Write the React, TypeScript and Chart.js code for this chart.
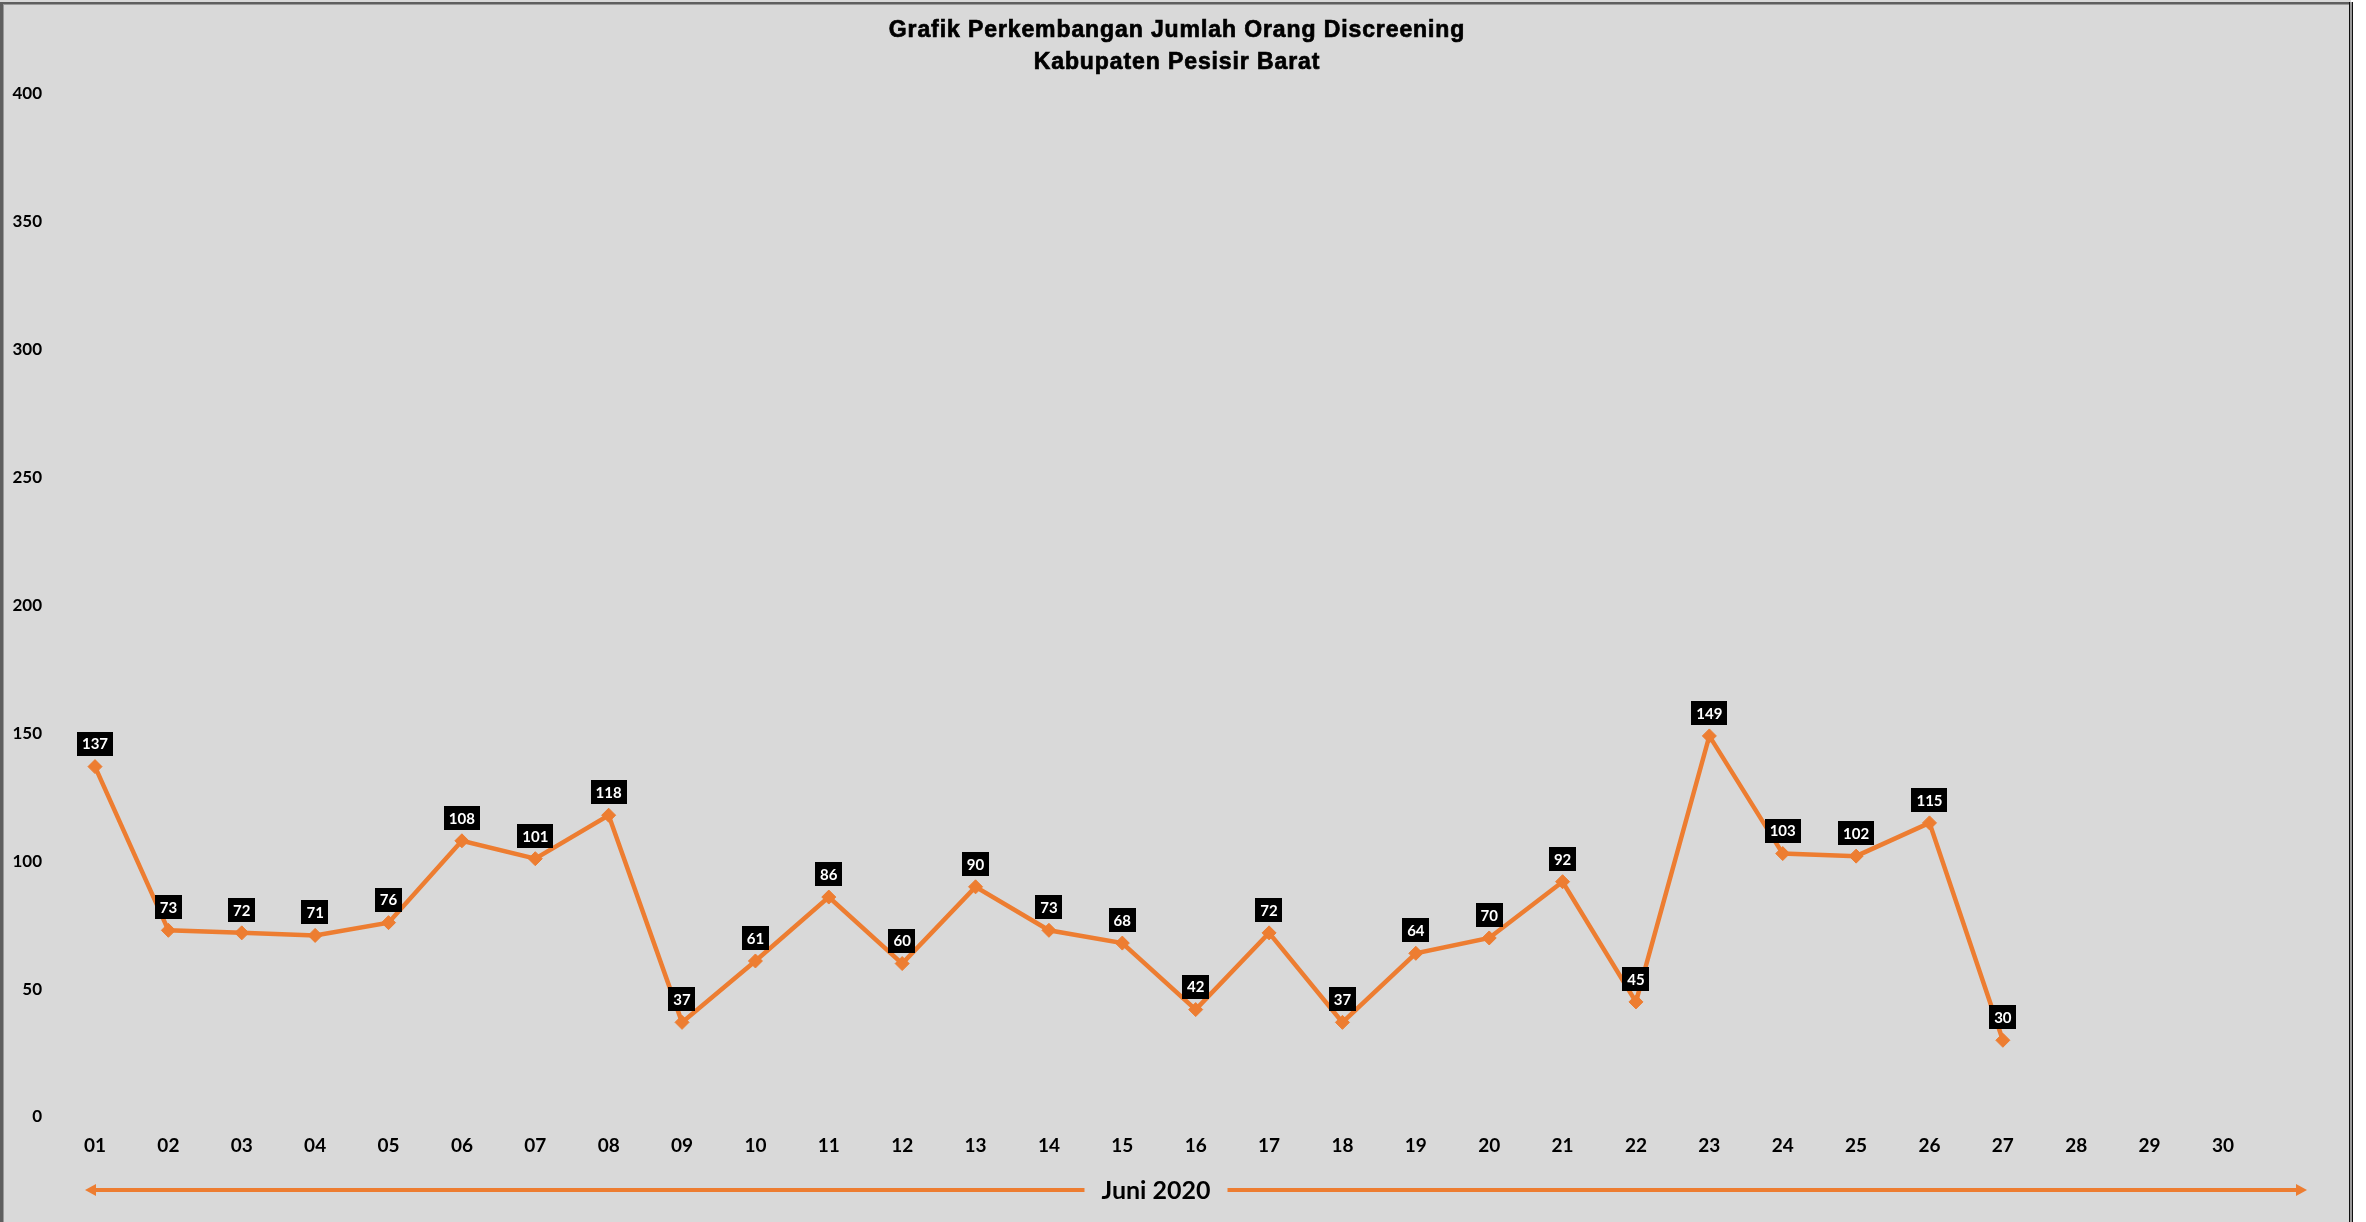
import React, { useEffect, useRef } from "react";
import { Chart, registerables } from "chart.js";

Chart.register(...registerables);

const categories = [
  "01", "02", "03", "04", "05", "06", "07", "08", "09", "10",
  "11", "12", "13", "14", "15", "16", "17", "18", "19", "20",
  "21", "22", "23", "24", "25", "26", "27", "28", "29", "30",
];
const values: (number | null)[] = [
  137, 73, 72, 71, 76, 108, 101, 118, 37, 61,
  86, 60, 90, 73, 68, 42, 72, 37, 64, 70,
  92, 45, 149, 103, 102, 115, 30, null, null, null,
];
const yMin = 0;
const yMax = 400;
const yStep = 50;
const titleLines = ["Grafik Perkembangan Jumlah Orang Discreening", "Kabupaten Pesisir Barat"];
const xAxisTitle = "Juni 2020";

const ORANGE = "#ED7D31";
const BG = "#d9d9d9";
const W = 2366;
const H = 1222;

const framePlugin = {
  id: "frame",
  beforeDraw(chart: any) {
    const ctx = chart.ctx;
    ctx.save();
    ctx.fillStyle = "#ffffff";
    ctx.fillRect(0, 0, W, H);
    ctx.fillStyle = BG;
    ctx.fillRect(0, 0, 2351, H);
    ctx.restore();
  },
  afterDraw(chart: any) {
    const ctx = chart.ctx;
    ctx.save();
    // borders
    ctx.fillStyle = "#5f5f5f";
    ctx.fillRect(0, 2, 3, H);
    ctx.fillRect(0, 2, 2351, 2);
    ctx.fillStyle = "#9a9a9a";
    ctx.fillRect(3, 4, 2346, 1);
    ctx.fillRect(3, 4, 1, H);
    ctx.fillStyle = "#111111";
    ctx.fillRect(2349, 2, 1, H);
    ctx.fillRect(2352, 2, 1, H);
    ctx.fillStyle = "#9a9a9a";
    ctx.fillRect(2350, 2, 2, H);

    // title
    ctx.fillStyle = "#000";
    ctx.strokeStyle = "#000";
    ctx.lineWidth = 0.7;
    ctx.font = "bold 23px 'Liberation Sans', Arial, sans-serif";
    try {
      (ctx as any).letterSpacing = "0.9px";
    } catch (e) {}
    ctx.textAlign = "center";
    ctx.textBaseline = "alphabetic";
    const cx = 1177;
    ctx.fillText(titleLines[0], cx, 37);
    ctx.strokeText(titleLines[0], cx, 37);
    ctx.fillText(titleLines[1], cx, 69);
    ctx.strokeText(titleLines[1], cx, 69);
    try {
      (ctx as any).letterSpacing = "0px";
    } catch (e) {}

    // bottom arrow with label
    const y = 1190;
    const xL = 85;
    const xR = 2307;
    ctx.font = "bold 25px Lato, sans-serif";
    ctx.textBaseline = "middle";
    const tx = 1156;
    const tw = ctx.measureText(xAxisTitle).width;
    ctx.fillText(xAxisTitle, tx, y + 1);
    ctx.strokeStyle = ORANGE;
    ctx.lineWidth = 4;
    ctx.beginPath();
    ctx.moveTo(xL + 8, y);
    ctx.lineTo(tx - tw / 2 - 17, y);
    ctx.moveTo(tx + tw / 2 + 17, y);
    ctx.lineTo(xR - 8, y);
    ctx.stroke();
    ctx.fillStyle = ORANGE;
    ctx.beginPath();
    ctx.moveTo(xL, y);
    ctx.lineTo(xL + 11, y - 6);
    ctx.lineTo(xL + 11, y + 6);
    ctx.closePath();
    ctx.fill();
    ctx.beginPath();
    ctx.moveTo(xR, y);
    ctx.lineTo(xR - 11, y - 6);
    ctx.lineTo(xR - 11, y + 6);
    ctx.closePath();
    ctx.fill();
    ctx.restore();
  },
};

const labelPlugin = {
  id: "boxLabels",
  afterDatasetsDraw(chart: any) {
    const ctx = chart.ctx;
    const meta = chart.getDatasetMeta(0);
    const data = chart.data.datasets[0].data;
    ctx.save();
    ctx.font = "bold 15px Lato, sans-serif";
    ctx.textAlign = "center";
    ctx.textBaseline = "middle";
    meta.data.forEach((pt: any, i: number) => {
      const v = data[i];
      if (v === null || v === undefined) return;
      const text = String(v);
      const tw = ctx.measureText(text).width;
      const bw = tw + 10;
      const bh = 24;
      const bottom = pt.y - 11;
      ctx.fillStyle = "#000";
      ctx.fillRect(Math.round(pt.x - bw / 2), Math.round(bottom - bh), Math.round(bw), bh);
      ctx.fillStyle = "#fff";
      ctx.fillText(text, pt.x, bottom - bh / 2 + 1);
    });
    ctx.restore();
  },
};

export default function App() {
  const ref = useRef<HTMLCanvasElement | null>(null);

  useEffect(() => {
    document.body.style.margin = "0";
    const canvas = ref.current;
    if (!canvas) return;
    const chart = new Chart(canvas, {
      type: "line",
      data: {
        labels: categories,
        datasets: [
          {
            data: values,
            borderColor: ORANGE,
            backgroundColor: ORANGE,
            borderWidth: 4.5,
            pointStyle: "rectRot",
            pointRadius: 7,
            pointBackgroundColor: ORANGE,
            pointBorderColor: ORANGE,
            pointBorderWidth: 1,
            tension: 0,
            spanGaps: false,
          },
        ],
      },
      options: {
        animation: false,
        responsive: false,
        devicePixelRatio: 1,
        layout: { padding: { left: 8, right: 143, top: 94, bottom: 65 } },
        plugins: {
          legend: { display: false },
          title: { display: false },
          tooltip: { enabled: false },
        },
        scales: {
          x: {
            offset: false,
            grid: { display: false, drawTicks: false },
            border: { display: false },
            ticks: {
              autoSkip: false,
              maxRotation: 0,
              padding: 17,
              color: "#000",
              font: { family: "Lato", weight: "bold", size: 19 },
            },
            afterFit: (axis: any) => {
              axis.height = 40;
            },
          },
          y: {
            min: yMin,
            max: yMax,
            grid: { display: false, drawTicks: false },
            border: { display: false },
            ticks: {
              stepSize: yStep,
              padding: 53,
              color: "#000",
              font: { family: "Lato", weight: "bold", size: 17 },
            },
            afterFit: (axis: any) => {
              axis.width = 87;
            },
          },
        },
      },
      plugins: [framePlugin, labelPlugin],
    });
    return () => chart.destroy();
  }, []);

  return <canvas ref={ref} width={W} height={H} style={{ display: "block", width: W, height: H }} />;
}
